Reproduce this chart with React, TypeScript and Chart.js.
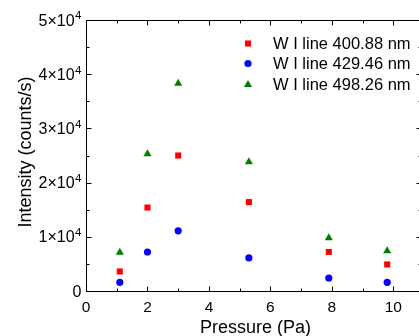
import React, { useEffect, useRef } from "react";
import { Chart, registerables } from "chart.js";

Chart.register(...registerables);

// ---- data ----
const pressure = [1.1, 2.0, 3.0, 5.3, 7.9, 9.8];
const line400 = [3600, 15400, 25000, 16400, 7200, 4900];
const line429 = [1600, 7200, 11100, 6100, 2400, 1600];
const line498 = [7100, 25300, 38300, 23800, 9800, 7400];
const seriesLabels = ["W I line 400.88 nm", "W I line 429.46 nm", "W I line 498.26 nm"];
const seriesColors = ["#ff0000", "#0000ff", "#008000"];
const xTicks = [0, 2, 4, 6, 8, 10];
const yTicks = [0, 10000, 20000, 30000, 40000, 50000];
const yTickMantissa = ["0", "1×10", "2×10", "3×10", "4×10", "5×10"];
const yTickExponent = ["", "4", "4", "4", "4", "4"];
const xTitle = "Pressure (Pa)";
const yTitle = "Intensity (counts/s)";

const FONT = "'Liberation Sans', Arial, sans-serif";

function drawMarker(ctx: CanvasRenderingContext2D, kind: number, x: number, y: number) {
  ctx.fillStyle = seriesColors[kind];
  ctx.beginPath();
  if (kind === 0) {
    const s = 4.3 * Math.SQRT1_2;
    ctx.rect(x - s, y - s, 2 * s, 2 * s);
  } else if (kind === 1) {
    ctx.arc(x, y, 3.6, 0, Math.PI * 2);
  } else {
    const r = 4.7;
    for (let i = 0; i < 3; i++) {
      const a = (i * 2 * Math.PI) / 3;
      const px = x + Math.sin(a) * r;
      const py = y - Math.cos(a) * r;
      if (i === 0) ctx.moveTo(px, py);
      else ctx.lineTo(px, py);
    }
    ctx.closePath();
  }
  ctx.fill();
}

const framePlugin = {
  id: "originFrame",
  afterDraw(chart: any) {
    const { ctx, chartArea: a, scales } = chart;
    const xs = scales.x;
    const ys = scales.y;
    ctx.save();
    ctx.strokeStyle = "#000";
    ctx.lineWidth = 1;
    const L = Math.round(a.left) + 0.5;
    const R = Math.round(a.right) + 0.5;
    const T = Math.round(a.top) + 0.5;
    const B = Math.round(a.bottom) + 0.5;
    ctx.strokeRect(L, T, R - L, B - T);
    const seg = (x1: number, y1: number, x2: number, y2: number) => {
      ctx.beginPath();
      ctx.moveTo(x1, y1);
      ctx.lineTo(x2, y2);
      ctx.stroke();
    };
    // x ticks (inward, bottom and top)
    for (let v = 0; v <= xs.max; v += 1) {
      const px = Math.round(xs.getPixelForValue(v)) + 0.5;
      const len = v % 2 === 0 ? 5 : 3;
      seg(px, B, px, B - len);
      seg(px, T, px, T + len);
    }
    // y ticks (inward, left and right)
    for (let v = 0; v <= ys.max; v += 5000) {
      const py = Math.round(ys.getPixelForValue(v)) + 0.5;
      const len = v % 10000 === 0 ? 5 : 3;
      seg(L, py, L + len, py);
      seg(R, py, R - len, py);
    }
    // y tick labels with superscript exponent
    ctx.fillStyle = "#000";
    ctx.textBaseline = "alphabetic";
    const rightEdge = 81.5;
    yTicks.forEach((v, i) => {
      const py = ys.getPixelForValue(v);
      const base = yTickMantissa[i];
      const exp = yTickExponent[i];
      ctx.font = `16px ${FONT}`;
      const bw = ctx.measureText(base).width;
      let ew = 0;
      if (exp) {
        ctx.font = `11.5px ${FONT}`;
        ew = ctx.measureText(exp).width + 0.5;
      }
      const startX = rightEdge - ew - bw;
      ctx.font = `16px ${FONT}`;
      ctx.textAlign = "left";
      ctx.fillText(base, startX, py + 5.6);
      if (exp) {
        ctx.font = `11.5px ${FONT}`;
        ctx.fillText(exp, startX + bw + 0.5, py - 0.6);
      }
    });
    // axis titles
    ctx.font = `18px ${FONT}`;
    ctx.textAlign = "center";
    ctx.fillText(xTitle, 255.5, 333);
    ctx.save();
    ctx.translate(30.5, 152);
    ctx.rotate(-Math.PI / 2);
    ctx.fillText(yTitle, 0, 0);
    ctx.restore();
    // legend
    ctx.font = `16.5px ${FONT}`;
    ctx.textAlign = "left";
    const legendY = [43.5, 63.5, 83.8];
    seriesLabels.forEach((lab, i) => {
      drawMarker(ctx, i, 248, legendY[i] + (i === 2 ? 0.8 : 0));
      ctx.fillStyle = "#000";
      ctx.fillText(lab, 273, legendY[i] + 5.9);
    });
    ctx.restore();
  },
};

export default function App() {
  const ref = useRef<HTMLCanvasElement | null>(null);
  useEffect(() => {
    if (!ref.current) return;
    const mk = (ys: number[]) => pressure.map((x, i) => ({ x, y: ys[i] }));
    const chart = new Chart(ref.current, {
      type: "scatter",
      data: {
        datasets: [
          {
            label: seriesLabels[0],
            data: mk(line400),
            pointStyle: "rect",
            pointRadius: 4.3,
            pointHoverRadius: 4.3,
            backgroundColor: seriesColors[0],
            borderColor: seriesColors[0],
            borderWidth: 0,
          },
          {
            label: seriesLabels[1],
            data: mk(line429),
            pointStyle: "circle",
            pointRadius: 3.6,
            pointHoverRadius: 3.6,
            backgroundColor: seriesColors[1],
            borderColor: seriesColors[1],
            borderWidth: 0,
          },
          {
            label: seriesLabels[2],
            data: mk(line498),
            pointStyle: "triangle",
            pointRadius: 4.7,
            pointHoverRadius: 4.7,
            backgroundColor: seriesColors[2],
            borderColor: seriesColors[2],
            borderWidth: 0,
          },
        ],
      },
      options: {
        responsive: false,
        animation: false,
        devicePixelRatio: 1,
        layout: { padding: { top: 20, right: 19, bottom: 0, left: 0 } },
        plugins: { legend: { display: false }, tooltip: { enabled: false } },
        scales: {
          x: {
            type: "linear",
            min: 0,
            max: 10.9,
            grid: { display: false, drawTicks: false, tickLength: 0 },
            border: { display: false },
            afterBuildTicks: (s: any) => {
              s.ticks = xTicks.map((v) => ({ value: v }));
            },
            afterFit: (s: any) => {
              s.height = 45;
            },
            ticks: {
              color: "#000",
              font: { family: FONT, size: 15.5 },
              padding: 7,
              maxRotation: 0,
              autoSkip: false,
            },
          },
          y: {
            type: "linear",
            min: 0,
            max: 50000,
            grid: { display: false, drawTicks: false, tickLength: 0 },
            border: { display: false },
            ticks: { display: false },
            afterFit: (s: any) => {
              s.width = 86;
            },
          },
        },
      },
      plugins: [framePlugin],
    });
    return () => chart.destroy();
  }, []);
  return (
    <div
      style={{
        position: "fixed",
        left: 0,
        top: 0,
        width: 419,
        height: 336,
        overflow: "hidden",
        background: "#fff",
      }}
    >
      <canvas ref={ref} width={440} height={336} style={{ width: 440, height: 336, display: "block" }} />
    </div>
  );
}
